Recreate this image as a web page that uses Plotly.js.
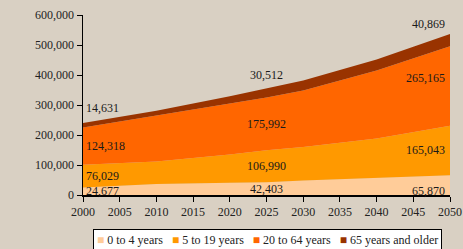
<!DOCTYPE html>
<html>
<head>
<meta charset="utf-8">
<script src="https://cdn.plot.ly/plotly-3.0.1.min.js"></script>
<style>html,body{margin:0;padding:0;background:#d9d0c3;}#chart{width:463px;height:249px;}</style>
</head>
<body>
<div id="chart"></div>
<script>
const years = [2000, 2010, 2020, 2025, 2030, 2040, 2050];
const age0to4 = [24677, 37000, 41000, 42403, 48000, 58000, 65870];
const age5to19 = [76029, 75000, 94000, 106990, 112000, 130000, 165043];
const age20to64 = [124318, 153000, 170000, 175992, 188000, 227000, 265165];
const age65plus = [14631, 16000, 24000, 30512, 34000, 37000, 40869];
const seriesNames = ['0 to 4 years', '5 to 19 years', '20 to 64 years', '65 years and older'];
const colors = ['#ffcc99', '#ff9900', '#ff6600', '#993300'];
const xTicks = [2000, 2005, 2010, 2015, 2020, 2025, 2030, 2035, 2040, 2045, 2050];
const yTicks = [0, 100000, 200000, 300000, 400000, 500000, 600000];
const labelYears = [2000, 2025, 2050];

const series = [age0to4, age5to19, age20to64, age65plus];
const traces = series.map((s, i) => ({
  x: years, y: s, name: seriesNames[i], type: 'scatter', mode: 'lines',
  stackgroup: 'one', line: {width: 0, color: colors[i]}, fillcolor: colors[i],
  hoverinfo: 'skip', showlegend: false
}));

const fmt = v => v.toLocaleString('en-US');
const annotations = [];
const shifts = {
  2000: [0, 0, 0, 6],
  2025: [0, 0, 0, 4],
  2050: [-6, 0, 8, 1]
};
labelYears.forEach((yr, k) => {
  const idx = years.indexOf(yr);
  let base = 0;
  series.forEach((s, i) => {
    const v = s[idx];
    const yPos = (i === 3) ? base + v : base + v / 2;
    const anchor = k === 0 ? 'left' : (k === 2 ? 'right' : 'center');
    annotations.push({
      x: yr, y: yPos, text: fmt(v), showarrow: false,
      xanchor: anchor, yanchor: i === 3 ? 'bottom' : 'middle',
      xshift: k === 0 ? 1 : (k === 2 ? -3 : 0),
      yshift: shifts[yr][i],
      font: {family: 'Liberation Serif', size: 12, color: '#1a1a1a'}
    });
    base += v;
  });
});

// legend drawn as a single bordered annotation
const legendText = seriesNames.map((n, i) =>
  '<span style="color:' + colors[i] + '">■</span> ' + n).join('   ');
annotations.push({
  xref: 'paper', yref: 'paper', x: 0.503, y: -0.19, xanchor: 'center', yanchor: 'top',
  text: legendText, showarrow: false, bgcolor: '#ffffff', bordercolor: '#000',
  borderwidth: 1, borderpad: 3,
  font: {family: 'Liberation Serif', size: 12, color: '#222'}
});

const layout = {
  width: 463, height: 249,
  margin: {l: 83, r: 13, t: 15, b: 54},
  paper_bgcolor: '#d9d0c3', plot_bgcolor: '#d9d0c3',
  showlegend: false,
  font: {family: 'Liberation Serif', size: 12, color: '#222'},
  xaxis: {
    range: [2000, 2050], tickvals: xTicks, ticktext: xTicks.map(String),
    showgrid: false, zeroline: false, showline: true, linecolor: '#000', linewidth: 1.5,
    ticks: 'outside', ticklen: 5, tickcolor: '#000', tickfont: {size: 12}
  },
  yaxis: {
    range: [0, 600000], tickvals: yTicks, ticktext: yTicks.map(fmt),
    showgrid: false, zeroline: false, showline: true, linecolor: '#000', linewidth: 1.5,
    ticks: 'outside', ticklen: 5, tickcolor: '#000', tickfont: {size: 12}
  },
  annotations: annotations
};

Plotly.newPlot('chart', traces, layout, {displayModeBar: false, staticPlot: true});
</script>
</body>
</html>
